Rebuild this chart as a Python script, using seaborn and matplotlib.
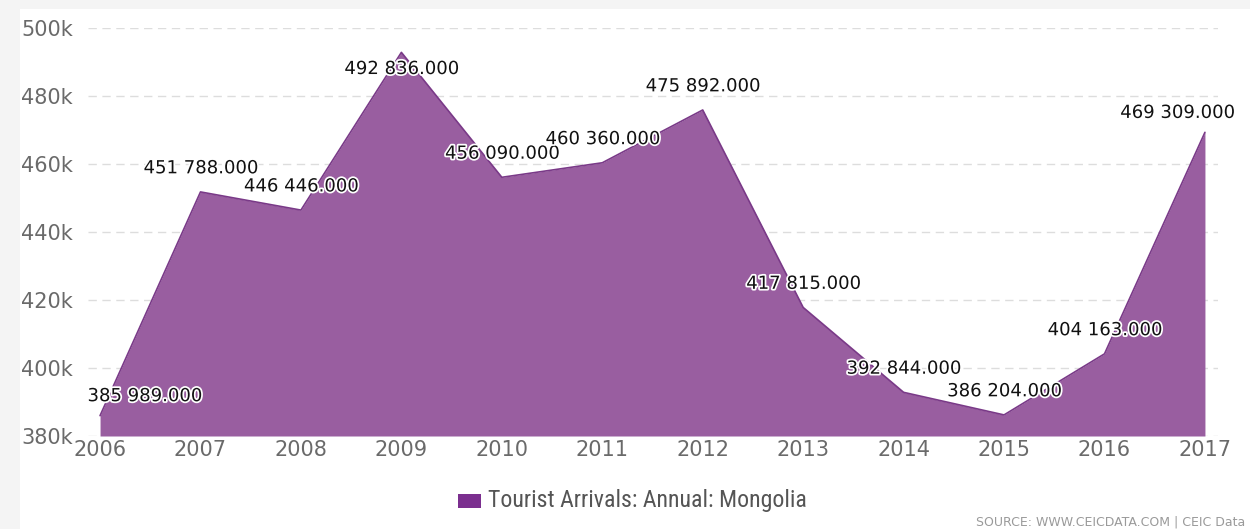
import matplotlib
matplotlib.use("Agg")
import matplotlib.pyplot as plt
import matplotlib.patheffects as pe
from matplotlib.patches import Rectangle
from matplotlib import font_manager
import seaborn as sns
import pandas as pd

years = [2006, 2007, 2008, 2009, 2010, 2011, 2012, 2013, 2014, 2015, 2016, 2017]
arrivals = [385989, 451788, 446446, 492836, 456090, 460360, 475892, 417815, 392844, 386204, 404163, 469309]
value_labels = ["385 989.000", "451 788.000", "446 446.000", "492 836.000", "456 090.000", "460 360.000",
                "475 892.000", "417 815.000", "392 844.000", "386 204.000", "404 163.000", "469 309.000"]
y_ticks = [380000, 400000, 420000, 440000, 460000, 480000, 500000]
y_tick_labels = ["380k", "400k", "420k", "440k", "460k", "480k", "500k"]
series_name = "Tourist Arrivals: Annual: Mongolia"
source_text = "SOURCE: WWW.CEICDATA.COM | CEIC Data"

df = pd.DataFrame({"year": years, "value": arrivals})

sns.set_theme(style="white")
plt.rcParams["font.family"] = ["DejaVu Sans"]


def is_regular(f):
    return f.style == "normal" and f.weight in (400, "normal", "regular")


# pick an upright condensed face for the legend if one is installed
cands = [f for f in font_manager.fontManager.ttflist
         if is_regular(f) and ("narrow" in f.name.lower() or "condensed" in f.name.lower()
                               or f.stretch in ("condensed", "semi-condensed"))]
cands.sort(key=lambda f: (0 if "roboto" in f.name.lower() else 1, f.name))
if cands:
    legend_font = font_manager.FontProperties(fname=cands[0].fname)
else:
    legend_font = font_manager.FontProperties(family=["Liberation Sans", "DejaVu Sans"])

fig = plt.figure(figsize=(12.5, 5.29), dpi=100)
fig.patch.set_facecolor("#f4f4f4")
fig.patches.append(Rectangle((20 / 1250, 0), 1 - 20 / 1250, 1 - 9 / 529, transform=fig.transFigure,
                             facecolor="white", edgecolor="none", zorder=-10))

ax = fig.add_axes([88 / 1250, 1 - 436 / 529, (1218 - 88) / 1250, (436 - 28) / 529])
ax.set_facecolor("none")

fill_color = "#995ea0"
line_color = "#7a3a88"

ax.fill_between(df["year"], df["value"], 380000, color=fill_color, linewidth=0, zorder=2)
sns.lineplot(data=df, x="year", y="value", ax=ax, color=line_color, linewidth=1.2, zorder=3)

ax.set_xlim(2005.88, 2017.13)
ax.set_ylim(380000, 500000)
ax.set_yticks(y_ticks)
ax.set_yticklabels(y_tick_labels)
ax.set_xticks(years)
ax.set_xticklabels([str(y) for y in years])
ax.tick_params(axis="both", length=0, labelsize=15, labelcolor="#6a6a6a")
ax.tick_params(axis="y", pad=11)
ax.tick_params(axis="x", pad=3)
ax.yaxis.grid(True, linestyle=(0, (6, 4)), color="#dddddd", linewidth=1)
ax.set_axisbelow(True)
for s in ax.spines.values():
    s.set_visible(False)
ax.set_xlabel("")
ax.set_ylabel("")

offsets = {0: (32, 14), 3: (0, -12), 11: (-20, 14)}
for i, (x, y, t) in enumerate(zip(years, arrivals, value_labels)):
    dx, dy = offsets.get(i, (0, 17))
    ax.annotate(t, (x, y), xytext=(dx, dy), textcoords="offset points", ha="center", va="center",
                fontsize=13, color="#111111", zorder=5,
                path_effects=[pe.withStroke(linewidth=2.5, foreground="white")])

# legend
fig.patches.append(Rectangle((458 / 1250, 1 - 508 / 529), 23 / 1250, 14 / 529, transform=fig.transFigure,
                             facecolor="#7b2f8f", edgecolor="none"))
legend_font.set_size(15)
leg_txt = fig.text(488 / 1250, 1 - 501 / 529, series_name, ha="left", va="center",
                   color="#555555", fontproperties=legend_font)
fig.canvas.draw()
w = leg_txt.get_window_extent().width
if w > 0:
    legend_font.set_size(15 * 320 / w)
    leg_txt.set_fontproperties(legend_font)

fig.text(1245 / 1250, 1 - 522 / 529, source_text, ha="right", va="center", fontsize=9,
         color="#9a9a9a")

fig.savefig("out.png", dpi=100)
